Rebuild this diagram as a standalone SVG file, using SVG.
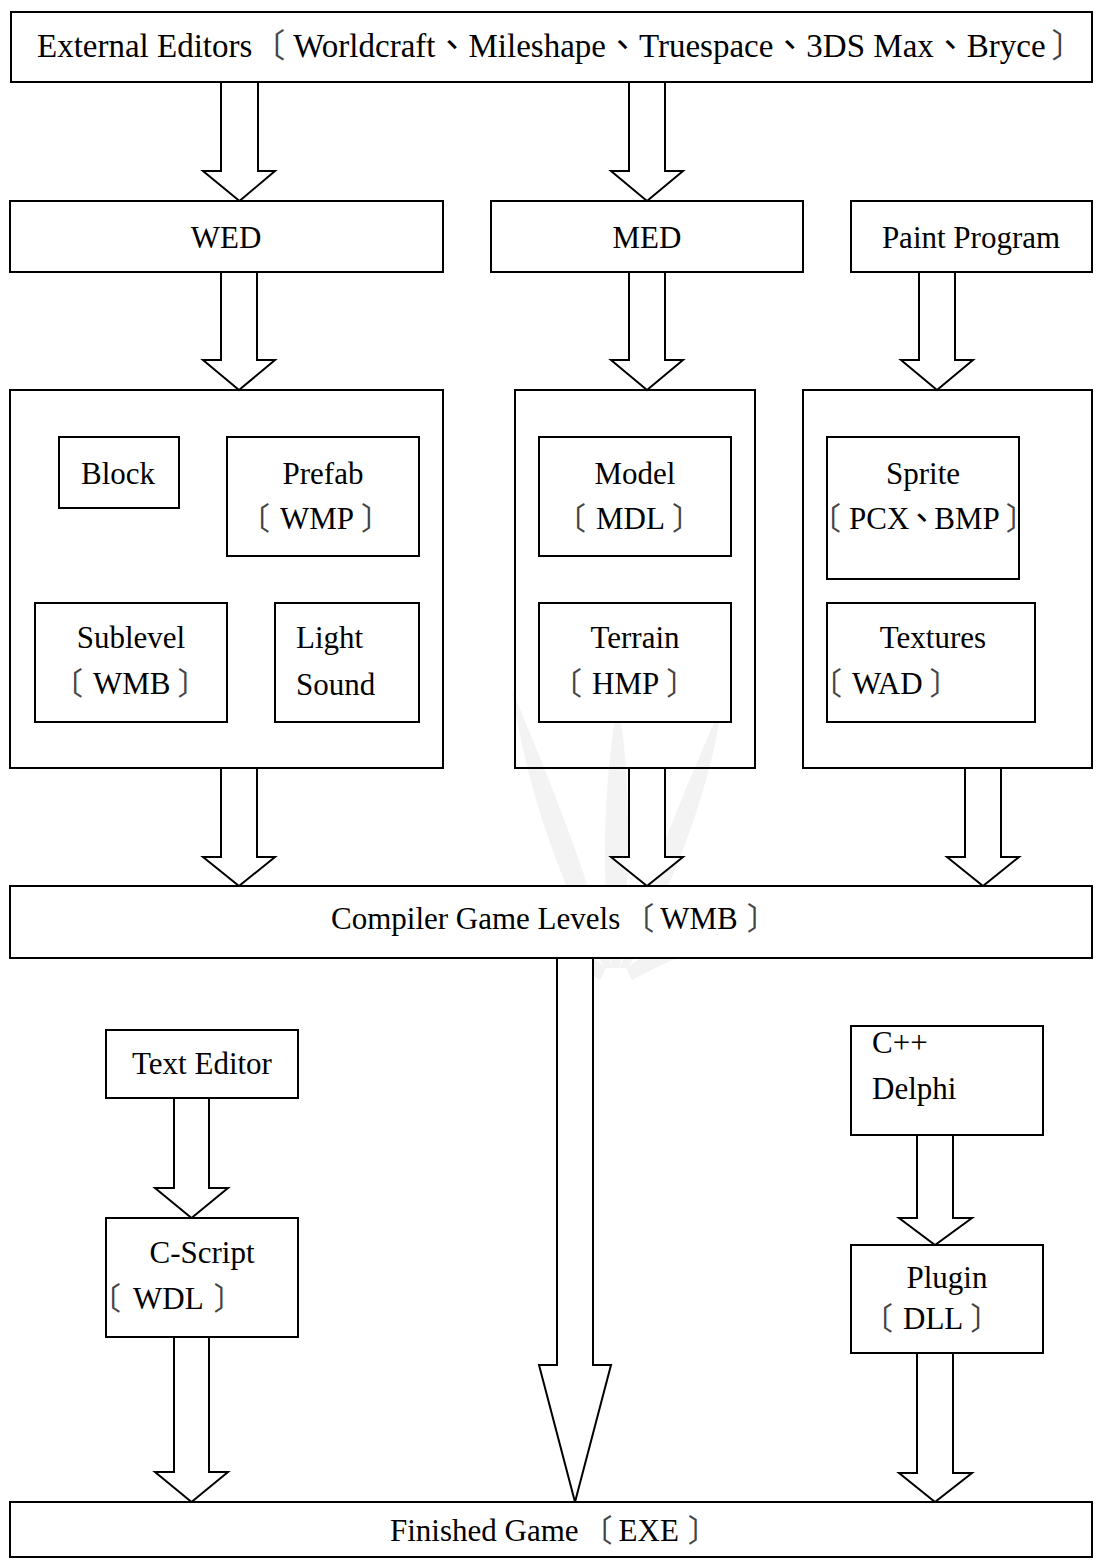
<svg xmlns="http://www.w3.org/2000/svg" width="1104" height="1566" viewBox="0 0 1104 1566">
  <style>
    .box { fill: #ffffff; stroke: #000000; stroke-width: 2; }
    .frame { fill: none; stroke: #000000; stroke-width: 2; }
    .arrow { fill: #ffffff; stroke: #000000; stroke-width: 2; stroke-linejoin: miter; }
    .lbl { font-family: "Liberation Serif", "Noto Sans CJK TC", serif; font-size: 31px; fill: #000000; }
    .big { font-size: 33px; }
    .mid { text-anchor: middle; }
    .br { fill: #444444; }
    .wm { fill: #f3f3f3; }
  </style>
  <rect x="0" y="0" width="1104" height="1566" fill="#ffffff"/>

  <!-- pale leaf emblem in the background -->
  <g id="watermark">
    <path class="wm" d="M604 968 C565 890 528 800 512 690 C552 785 588 875 612 968 Z"/>
    <path class="wm" d="M612 968 C600 870 604 780 618 700 C632 785 630 880 620 968 Z"/>
    <path class="wm" d="M620 968 C648 880 684 790 722 705 C708 800 670 890 628 968 Z"/>
    <path class="wm" d="M606 968 C585 950 550 935 506 930 C548 950 578 965 600 980 Z"/>
    <path class="wm" d="M626 968 C650 950 684 940 724 936 C690 952 660 965 632 980 Z"/>
  </g>

  <!-- connectors: hollow block arrows -->
  <g id="connectors">
    <polygon class="arrow" points="221,82 258,82 258,171 275,171 239.5,201 203,171 221,171"/>
    <polygon class="arrow" points="629,82 665,82 665,171 683,171 647,201 611,171 629,171"/>
    <polygon class="arrow" points="221,272 257,272 257,360 275,360 239,390 203,360 221,360"/>
    <polygon class="arrow" points="629,272 665,272 665,360 683,360 647,390 611,360 629,360"/>
    <polygon class="arrow" points="919,272 955,272 955,360 973,360 937,390 901,360 919,360"/>
    <polygon class="arrow" points="221,768 257,768 257,857 275,857 239,886 203,857 221,857"/>
    <polygon class="arrow" points="629,768 665,768 665,857 683,857 647,886 611,857 629,857"/>
    <polygon class="arrow" points="965,768 1001,768 1001,857 1019,857 983,886 947,857 965,857"/>
    <polygon class="arrow" points="557,958 593,958 593,1365 611,1365 575,1502 539,1365 557,1365"/>
    <polygon class="arrow" points="174,1098 209,1098 209,1188 228,1188 191.5,1218 155,1188 174,1188"/>
    <polygon class="arrow" points="174,1337 209,1337 209,1472 228,1472 191.5,1502 155,1472 174,1472"/>
    <polygon class="arrow" points="917,1135 953,1135 953,1218 972,1218 935,1245 899,1218 917,1218"/>
    <polygon class="arrow" points="917,1353 953,1353 953,1473 972,1473 935,1502 899,1473 917,1473"/>
  </g>

  <g id="external-editors">
    <rect class="box" x="11" y="12" width="1081" height="70"/>
    <text class="lbl big" x="37" y="57">External Editors<tspan class="br">〔</tspan><tspan dx="8">Worldcraft</tspan>、Mileshape、Truespace、3DS Max、Bryce<tspan class="br" dx="6">〕</tspan></text>
  </g>

  <g id="wed">
    <rect class="box" x="10" y="201" width="433" height="71"/>
    <text class="lbl mid" x="226" y="248">WED</text>
  </g>
  <g id="med">
    <rect class="box" x="491" y="201" width="312" height="71"/>
    <text class="lbl mid" x="647" y="248">MED</text>
  </g>
  <g id="paint-program">
    <rect class="box" x="851" y="201" width="241" height="71"/>
    <text class="lbl mid" x="971" y="248">Paint Program</text>
  </g>

  <g id="wed-output">
    <rect class="frame" x="10" y="390" width="433" height="378"/>
  </g>
  <g id="block">
    <rect class="box" x="59" y="437" width="120" height="71"/>
    <text class="lbl mid" x="118" y="484">Block</text>
  </g>
  <g id="prefab">
    <rect class="box" x="227" y="437" width="192" height="119"/>
    <text class="lbl mid" x="323" y="484">Prefab</text>
    <text class="lbl" x="239" y="529"><tspan class="br">〔</tspan><tspan dx="10">WMP</tspan><tspan class="br" dx="7">〕</tspan></text>
  </g>
  <g id="sublevel">
    <rect class="box" x="35" y="603" width="192" height="119"/>
    <text class="lbl mid" x="131" y="648">Sublevel</text>
    <text class="lbl" x="52" y="694"><tspan class="br">〔</tspan><tspan dx="10">WMB</tspan><tspan class="br" dx="7">〕</tspan></text>
  </g>
  <g id="light-sound">
    <rect class="box" x="275" y="603" width="144" height="119"/>
    <text class="lbl" x="296" y="648">Light</text>
    <text class="lbl" x="296" y="695">Sound</text>
  </g>

  <g id="med-output">
    <rect class="frame" x="515" y="390" width="240" height="378"/>
  </g>
  <g id="model">
    <rect class="box" x="539" y="437" width="192" height="119"/>
    <text class="lbl mid" x="635" y="484">Model</text>
    <text class="lbl" x="555" y="529"><tspan class="br">〔</tspan><tspan dx="10">MDL</tspan><tspan class="br" dx="7">〕</tspan></text>
  </g>
  <g id="terrain">
    <rect class="box" x="539" y="603" width="192" height="119"/>
    <text class="lbl mid" x="635" y="648">Terrain</text>
    <text class="lbl" x="551" y="694"><tspan class="br">〔</tspan><tspan dx="10">HMP</tspan><tspan class="br" dx="7">〕</tspan></text>
  </g>

  <g id="paint-output">
    <rect class="frame" x="803" y="390" width="289" height="378"/>
  </g>
  <g id="sprite">
    <rect class="box" x="827" y="437" width="192" height="142"/>
    <text class="lbl mid" x="923" y="484">Sprite</text>
    <text class="lbl" x="810" y="529"><tspan class="br">〔</tspan><tspan dx="8">PCX</tspan><tspan dx="-3">、</tspan><tspan dx="-3">BMP</tspan><tspan class="br" dx="6">〕</tspan></text>
  </g>
  <g id="textures">
    <rect class="box" x="827" y="603" width="208" height="119"/>
    <text class="lbl mid" x="933" y="648">Textures</text>
    <text class="lbl" x="811" y="694"><tspan class="br">〔</tspan><tspan dx="10">WAD</tspan><tspan class="br" dx="7">〕</tspan></text>
  </g>

  <g id="compiler">
    <rect class="box" x="10" y="886" width="1082" height="72"/>
    <text class="lbl" x="331" y="929">Compiler Game Levels<tspan class="br" dx="3">〔</tspan><tspan dx="6">WMB</tspan><tspan class="br" dx="9">〕</tspan></text>
  </g>

  <g id="text-editor">
    <rect class="box" x="106" y="1030" width="192" height="68"/>
    <text class="lbl mid" x="202" y="1074">Text Editor</text>
  </g>
  <g id="c-script">
    <rect class="box" x="106" y="1218" width="192" height="119"/>
    <text class="lbl mid" x="202" y="1263">C-Script</text>
    <text class="lbl" x="90" y="1309"><tspan class="br">〔</tspan><tspan dx="12">WDL</tspan><tspan class="br" dx="10">〕</tspan></text>
  </g>

  <g id="cpp-delphi">
    <rect class="box" x="851" y="1026" width="192" height="109"/>
    <text class="lbl" x="872" y="1053">C++</text>
    <text class="lbl" x="872" y="1099">Delphi</text>
  </g>
  <g id="plugin">
    <rect class="box" x="851" y="1245" width="192" height="108"/>
    <text class="lbl mid" x="947" y="1288">Plugin</text>
    <text class="lbl" x="862" y="1329"><tspan class="br">〔</tspan><tspan dx="10">DLL</tspan><tspan class="br" dx="7">〕</tspan></text>
  </g>

  <g id="finished-game">
    <rect class="box" x="10" y="1502" width="1082" height="55"/>
    <text class="lbl" x="390" y="1541">Finished Game<tspan class="br" dx="3">〔</tspan><tspan dx="6">EXE</tspan><tspan class="br" dx="9">〕</tspan></text>
  </g>
</svg>
